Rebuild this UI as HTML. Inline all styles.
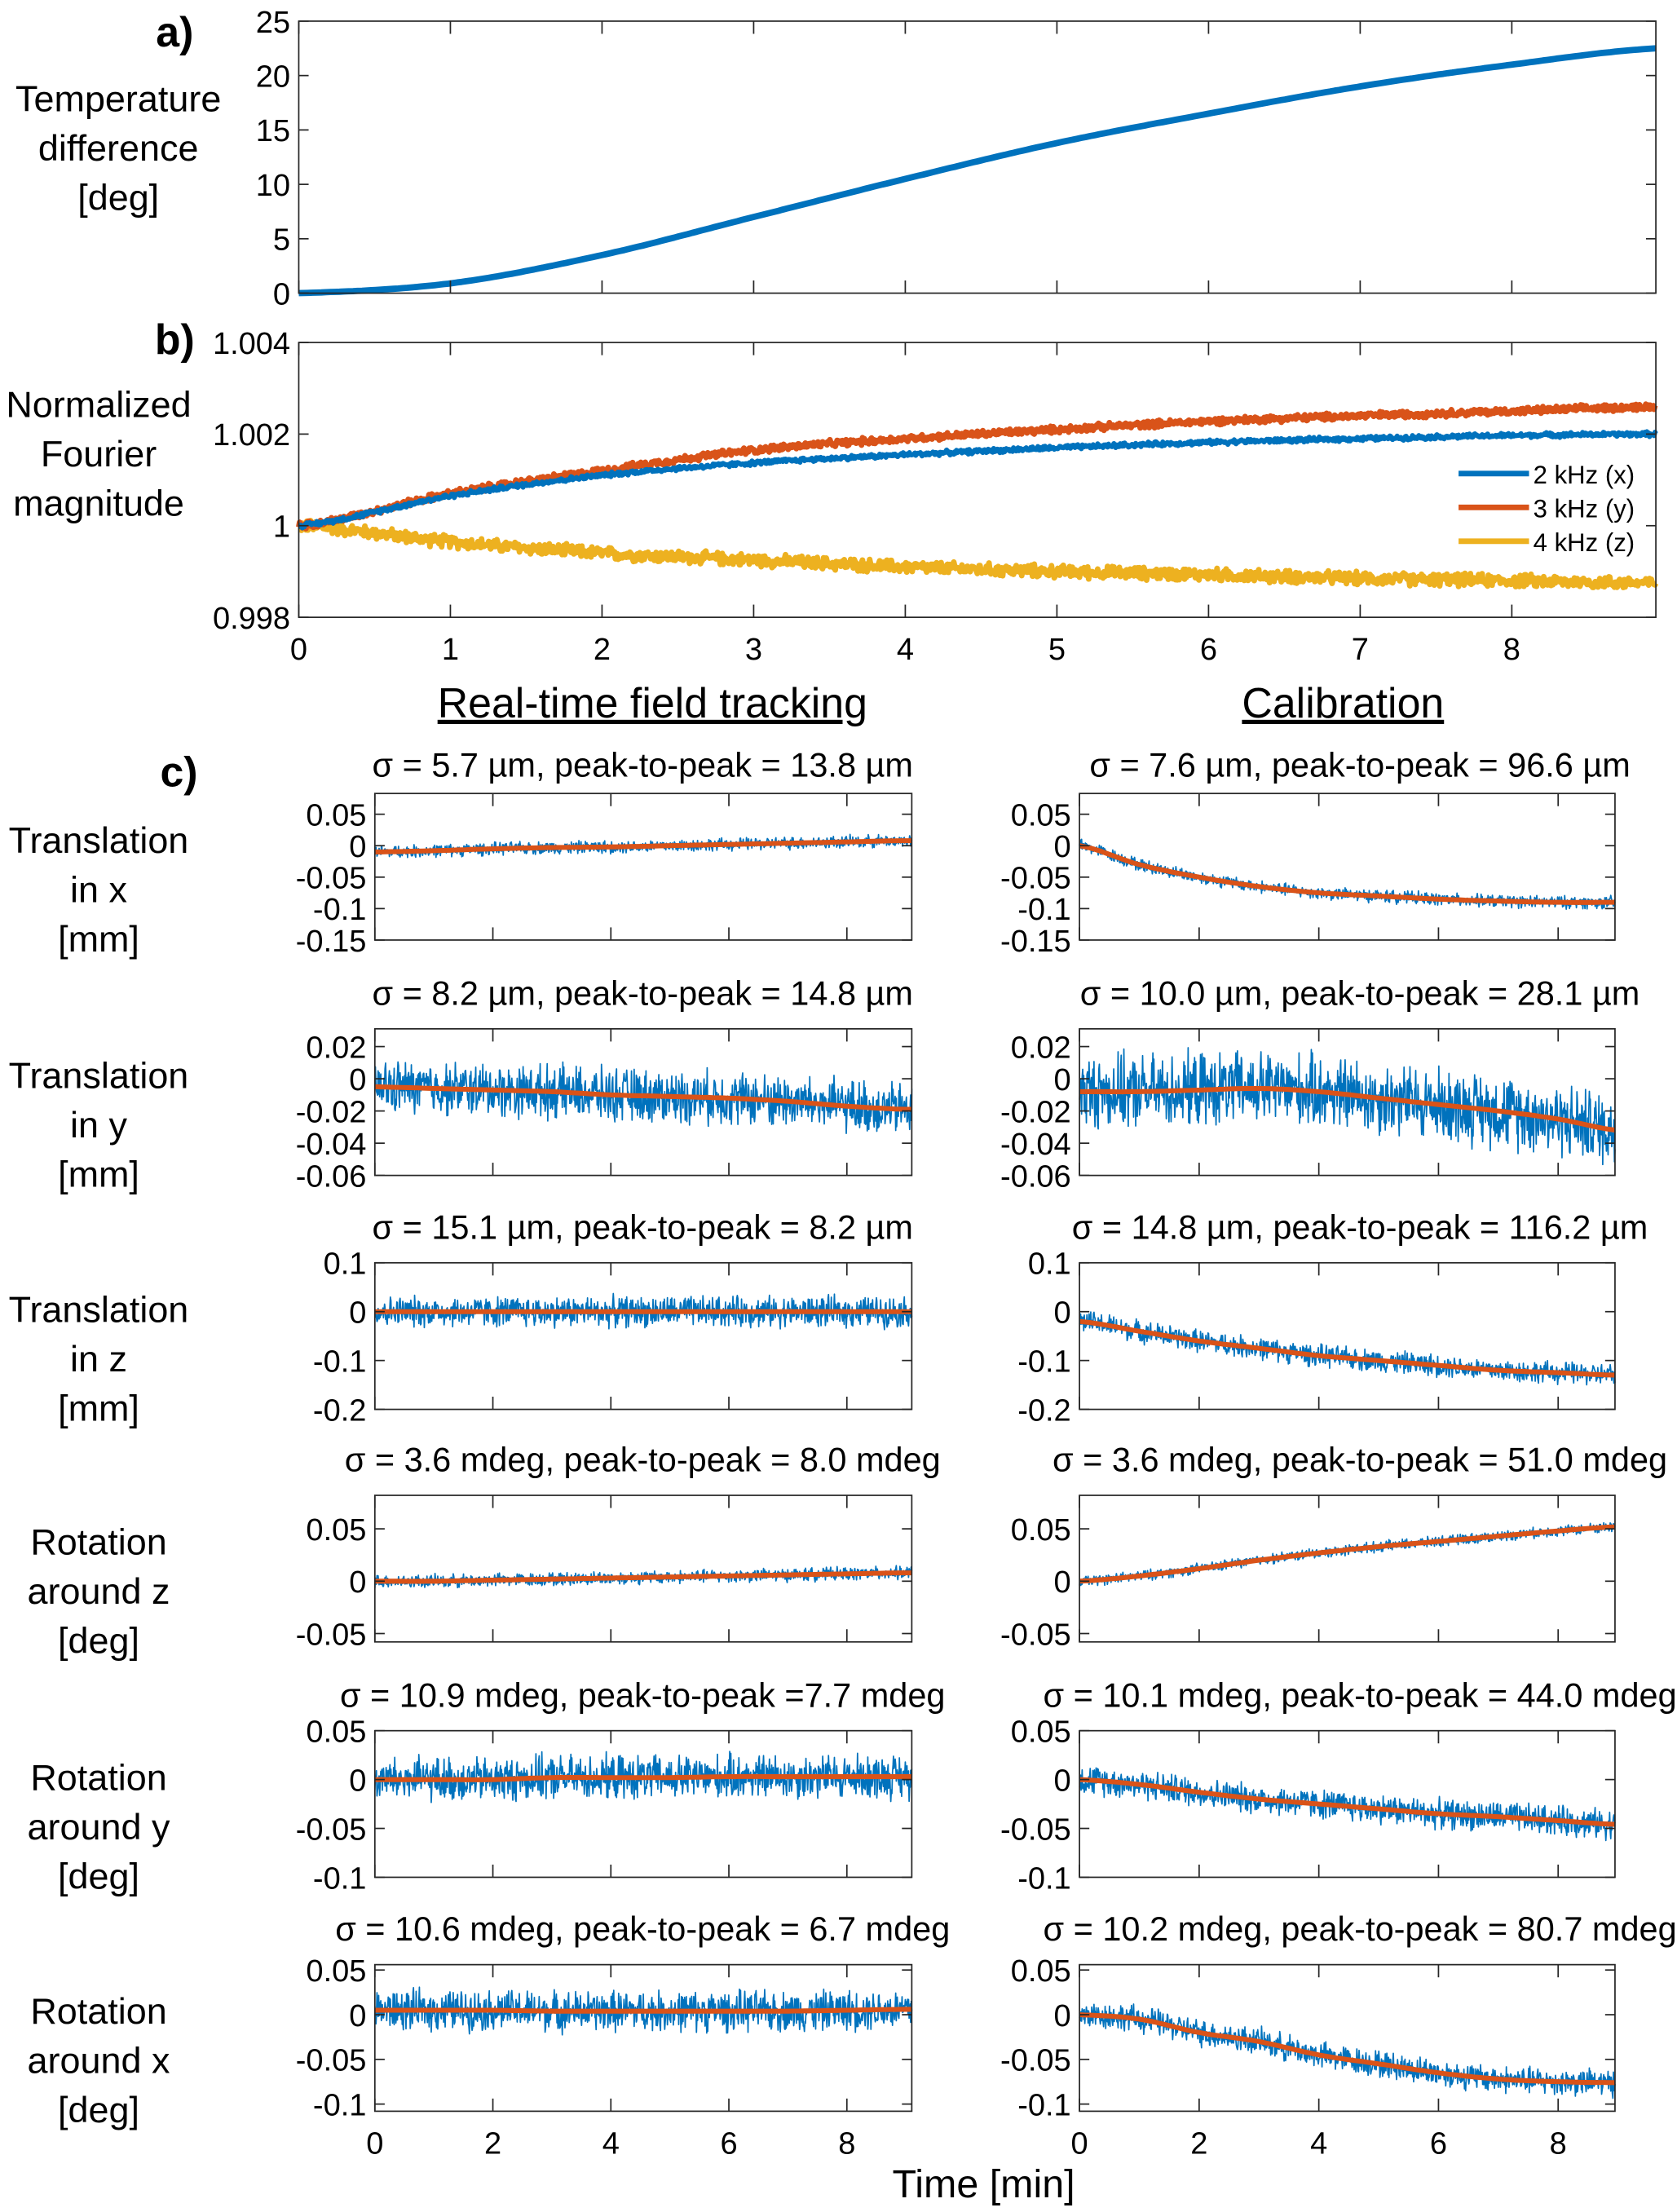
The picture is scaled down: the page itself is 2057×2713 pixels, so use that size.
<!DOCTYPE html>
<html><head><meta charset="utf-8">
<style>
html,body{margin:0;padding:0;background:#fff;}
svg{display:block;font-family:"Liberation Sans",sans-serif;}
text{fill:#000;}
</style></head>
<body>
<svg id="fig" xmlns="http://www.w3.org/2000/svg" width="2057" height="2713" viewBox="0 0 1190 1569.5"></svg>
<script>
// ---- Data ----
const timesA = [0,1,2,3,4,5,6,7,8,8.95];
const tempDiff = [0,0.9,3.5,7,10.5,13.8,16.5,19,21,22.5];
const timesB = [0,1,2,3,4,5,6,7,8,8.95];
const mag2k = [1,1.00065,1.0011,1.00137,1.00155,1.0017,1.00182,1.0019,1.00197,1.002];
const mag3k = [1,1.0007,1.0012,1.00165,1.0019,1.0021,1.00228,1.0024,1.0025,1.0026];
const mag4k = [1,0.99965,0.9994,0.99925,0.9991,0.999,0.99893,0.99885,0.9988,0.99875];
const timesC = [0,1,2,3,4,5,6,7,8,9];
const rtTx = [-0.01,-0.008,-0.005,-0.003,-0.002,0,0.002,0.004,0.006,0.008];
const rtTy = [-0.005,-0.006,-0.007,-0.008,-0.01,-0.011,-0.012,-0.014,-0.017,-0.019];
const rtTz = [0,0,0,0,0,0,0,0,0,0];
const rtRz = [0,0,0.001,0.002,0.003,0.004,0.005,0.006,0.007,0.008];
const rtRy = [0,0,0,0.002,0.002,0.002,0.003,0.003,0.003,0.003];
const rtRx = [0.005,0.005,0.005,0.004,0.004,0.004,0.004,0.004,0.005,0.006];
const calTx = [0,-0.03,-0.05,-0.065,-0.075,-0.08,-0.085,-0.088,-0.09,-0.09];
const calTy = [-0.008,-0.008,-0.007,-0.006,-0.008,-0.012,-0.016,-0.02,-0.025,-0.032];
const calTz = [-0.02,-0.04,-0.06,-0.075,-0.09,-0.1,-0.11,-0.12,-0.125,-0.13];
const calRz = [0,0.005,0.012,0.02,0.027,0.033,0.038,0.043,0.048,0.052];
const calRy = [0,-0.005,-0.013,-0.02,-0.025,-0.03,-0.035,-0.038,-0.042,-0.046];
const calRx = [0,-0.005,-0.02,-0.03,-0.045,-0.055,-0.065,-0.072,-0.075,-0.076];
const rtNoise = [0.008,0.013,0.025,0.005,0.018,0.018];
const calNoise = [0.008,0.018,0.018,0.004,0.012,0.012];
const rtTitles = ["σ = 5.7 µm, peak-to-peak =  13.8 µm","σ = 8.2 µm, peak-to-peak = 14.8 µm","σ = 15.1 µm, peak-to-peak = 8.2 µm","σ = 3.6 mdeg, peak-to-peak = 8.0 mdeg","σ = 10.9 mdeg, peak-to-peak =7.7 mdeg","σ = 10.6 mdeg, peak-to-peak = 6.7 mdeg"];
const calTitles = ["σ = 7.6 µm, peak-to-peak = 96.6 µm","σ = 10.0 µm, peak-to-peak = 28.1 µm","σ = 14.8 µm, peak-to-peak = 116.2 µm","σ = 3.6 mdeg, peak-to-peak = 51.0 mdeg","σ = 10.1 mdeg, peak-to-peak = 44.0 mdeg","σ = 10.2 mdeg, peak-to-peak = 80.7 mdeg"];
const rowLabels = [["Translation","in x","[mm]"],["Translation","in y","[mm]"],["Translation","in z","[mm]"],["Rotation","around z","[deg]"],["Rotation","around y","[deg]"],["Rotation","around x","[deg]"]];
const rowTicks = [[0.05,0,-0.05,-0.1,-0.15],[0.02,0,-0.02,-0.04,-0.06],[0.1,0,-0.1,-0.2],[0.05,0,-0.05],[0.05,0,-0.05,-0.1],[0.05,0,-0.05,-0.1]];
const rowTickLabels = [["0.05","0","-0.05","-0.1","-0.15"],["0.02","0","-0.02","-0.04","-0.06"],["0.1","0","-0.1","-0.2"],["0.05","0","-0.05"],["0.05","0","-0.05","-0.1"],["0.05","0","-0.05","-0.1"]];
const rowYRange = [[0.083,-0.15],[0.031,-0.06],[0.1,-0.2],[0.082,-0.058],[0.05,-0.1],[0.056,-0.108]];
const timeTicks = [0,2,4,6,8];
const abTicks = [0,1,2,3,4,5,6,7,8];

const svg = document.getElementById('fig');
const NS = 'http://www.w3.org/2000/svg';
function mk(tag, attrs, parent){const e=document.createElementNS(NS,tag);for(const k in attrs)e.setAttribute(k,attrs[k]);(parent||svg).appendChild(e);return e;}
function txt(s,x,y,size,anchor,parent){const t=mk('text',{x:x,y:y,'font-size':size,'text-anchor':anchor||'middle'},parent);t.textContent=s;return t;}
let seed=12345;
function rnd(){seed=(seed*1103515245+12345)%2147483648;return seed/2147483648;}
// Catmull-Rom interpolation through data points
function interp(ts,vs,t){
  const n=ts.length;
  let i=0; while(i<n-2 && t>ts[i+1]) i++;
  const f=Math.max(0,Math.min(1,(t-ts[i])/(ts[i+1]-ts[i])));
  const p0=vs[Math.max(0,i-1)],p1=vs[i],p2=vs[i+1],p3=vs[Math.min(n-1,i+2)];
  return 0.5*((2*p1)+(-p0+p2)*f+(2*p0-5*p1+4*p2-p3)*f*f+(-p0+3*p1-3*p2+p3)*f*f*f);
}

function axes(x0,x1,y0,y1,xmax,ymax,ymin,xt,yt,ytl,name,xlabels,fs){
  const g=mk('g',{});
  
  
  const X=t=>x0+t/xmax*(x1-x0);
  const Y=v=>y0+(ymax-v)/(ymax-ymin)*(y1-y0);
  return {g,X,Y,frame:()=>{
    mk('rect',{x:x0,y:y0,width:x1-x0,height:y1-y0,fill:'none',stroke:'#262626','stroke-width':1},g);
    xt.forEach(t=>{mk('line',{x1:X(t),x2:X(t),y1:y1,y2:y1-9,stroke:'#262626'},g);mk('line',{x1:X(t),x2:X(t),y1:y0,y2:y0+9,stroke:'#262626'},g);
      if(xlabels){const l=txt(String(t),X(t),y1+30,22,'middle',g);}});
    yt.forEach((v,i)=>{mk('line',{x1:x0,x2:x0+7,y1:Y(v),y2:Y(v),stroke:'#262626'},g);mk('line',{x1:x1,x2:x1-7,y1:Y(v),y2:Y(v),stroke:'#262626'},g);
      const l=txt(ytl[i],x0-6,Y(v)+8,fs||22,'end',g);});
  }};
}
function line(ax,ts,vs,noise,n,color,w,name,tmax){
  let d='';
  for(let i=0;i<=n;i++){const t=tmax*i/n;const v=interp(ts,vs,t)+(noise?(rnd()-0.5)*2*noise*(0.5+rnd()):0);d+=(i?'L':'M')+ax.X(t).toFixed(1)+' '+ax.Y(v).toFixed(1);}
  const p=mk('path',{d:d,fill:'none',stroke:color,'stroke-width':w,'stroke-linejoin':'round'},ax.g);
  
  
}

// Panel a
const a=axes(212,1175,15,208,8.95,25,0,abTicks,[0,5,10,15,20,25],['0','5','10','15','20','25'],'panel-a-temperature',false,22);
line(a,timesA,tempDiff,0,300,'#0072BD',4.5,'temperature-line',8.95);
a.frame();
let t;
t=txt('a)',124,33,30,'middle');t.setAttribute('font-weight','bold');
['Temperature','difference','[deg]'].forEach((s,i)=>{const e=txt(s,84,79+i*35,26);});

// Panel b
const b=axes(212,1175,243,438,8.95,1.004,0.998,abTicks,[0.998,1,1.002,1.004],['0.998','1','1.002','1.004'],'panel-b-fourier',true,22);
line(b,timesB,mag4k,0.00011,1500,'#EDB120',4,'series-4khz',8.95);
line(b,timesB,mag3k,0.00006,1500,'#D95319',4,'series-3khz',8.95);
line(b,timesB,mag2k,0.00004,1500,'#0072BD',3.5,'series-2khz',8.95);
b.frame();
t=txt('b)',124,251,30,'middle');t.setAttribute('font-weight','bold');
['Normalized','Fourier','magnitude'].forEach((s,i)=>{const e=txt(s,70,296+i*35,26);});
[['2 kHz (x)','#0072BD'],['3 kHz (y)','#D95319'],['4 kHz (z)','#EDB120']].forEach((l,i)=>{
  const g=mk('g',{});
  
  
  mk('line',{x1:1035,x2:1085,y1:336+i*24,y2:336+i*24,stroke:l[1],'stroke-width':4},g);
  txt(l[0],1088,343+i*24,18,'start',g);
});

// Column headers
t=txt('Real-time field tracking',463,509,30);t.setAttribute('text-decoration','underline');
t=txt('Calibration',953,509,30);t.setAttribute('text-decoration','underline');
t=txt('c)',127,558,30);t.setAttribute('font-weight','bold');

const rowTops=[563,730,896,1061,1228,1394];
const rtData=[rtTx,rtTy,rtTz,rtRz,rtRy,rtRx];
const calData=[calTx,calTy,calTz,calRz,calRy,calRx];
const titleY=[551,713,879,1044,1211,1377];
for(let r=0;r<6;r++){
  const y0=rowTops[r],y1=y0+104;
  const last=r===5;
  [[266,647,9.1,rtData[r],rtNoise[r],rtTitles[r],456,'real-time'],[766,1146,8.95,calData[r],calNoise[r],calTitles[r],965,'calibration']].forEach(c=>{
    const ax=axes(c[0],c[1],y0,y1,c[2],rowYRange[r][0],rowYRange[r][1],timeTicks,rowTicks[r],rowTickLabels[r],c[7]+'-row-'+(r+1),last,22);
    line(ax,timesC,c[3],c[4],1000,'#0072BD',1,c[7]+'-raw-'+(r+1),c[2]);
    line(ax,timesC,c[3],0,100,'#D95319',3.5,c[7]+'-smoothed-'+(r+1),c[2]);
    ax.frame();
    const tt=txt(c[5],c[6],titleY[r],24);
  });
  rowLabels[r].forEach((s,i)=>{const e=txt(s,70,y0+42+i*35,26);});
}
t=txt('Time [min]',698,1559,28);
</script>
</body></html>
